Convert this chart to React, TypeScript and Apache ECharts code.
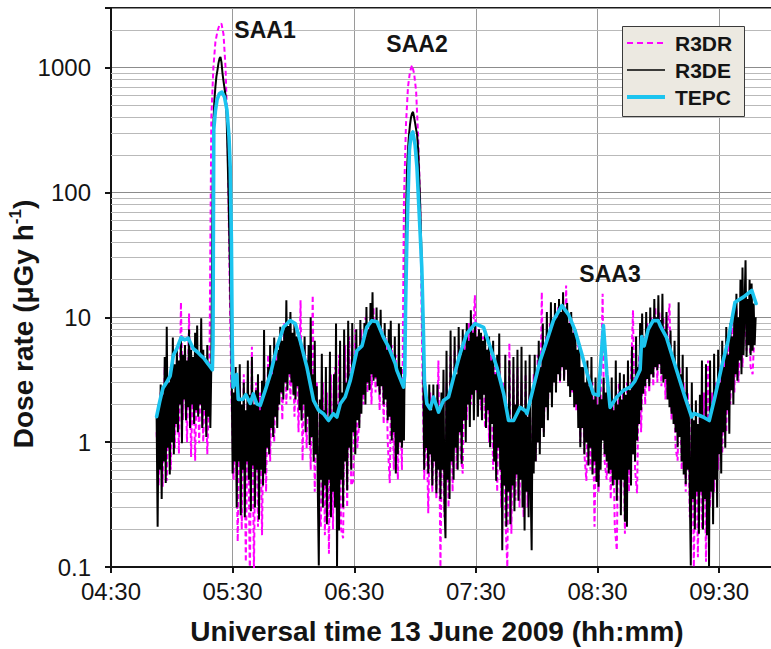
import { useEffect, useRef } from "react";
import * as echarts from "echarts";

const FONT = "'Liberation Sans', Arial, Helvetica, sans-serif";

// Time axis: minutes after 04:30 UT
const TIME_ORIGIN = 4 * 60 + 30;
const X_MAX = 330; // 10:00 UT
const xTickLabels = ["04:30", "05:30", "06:30", "07:30", "08:30", "09:30"];

// Dose-rate axis (log)
const yTickValues = [0.1, 1, 10, 100, 1000];
const yTickLabels = ["0.1", "1", "10", "100", "1000"];
const minorGridValues = [
  0.2, 0.3, 0.4, 0.5, 0.6, 0.7, 0.8, 0.9,
  2, 3, 4, 5, 6, 7, 8, 9,
  20, 30, 40, 50, 60, 70, 80, 90,
  200, 300, 400, 500, 600, 700, 800, 900,
  2000,
];

// R3DE: 30-second samples from 04:52:30 UT (µGy/h)
const R3DE_START = 22.5;
const R3DE_STEP = 0.5;
const r3deDose = [
  1.6, 0.21, 2.0, 0.6, 2.9, 0.35, 2.4, 0.7, 4.8, 0.47, 8.4, 0.9, 3.0, 0.55, 3.5, 1.0, 6.9, 0.8, 4.2, 1.4,
  5.5, 1.2, 4.5, 2.0, 7.0, 0.98, 5.0, 2.2, 6.0, 1.5, 4.5, 1.9, 8.0, 1.3, 5.5, 2.0, 4.8, 1.4, 7.5, 1.8,
  8.6, 1.6, 5.0, 2.0, 9.8, 1.3, 5.5, 1.8, 4.5, 1.1, 6.0, 1.6, 4.0, 1.3, 4.2, 60, 350, 550, 700, 850,
  950, 1080, 1180, 1217, 1100, 900, 780, 680, 600, 420, 200, 90, 35, 12, 4.0, 0.56, 2.5, 0.7, 4.0, 0.3,
  2.2, 0.7, 4.2, 0.26, 2.0, 0.6, 3.0, 0.25, 1.8, 0.7, 4.5, 0.5, 2.4, 0.28, 4.8, 0.65, 2.0, 0.3, 2.6, 0.6,
  3.5, 0.24, 1.8, 0.6, 3.1, 0.45, 7.9, 0.56, 2.8, 0.9, 4.0, 0.8, 6.0, 1.3, 3.5, 1.1, 6.9, 1.6, 4.5, 1.3,
  5.5, 2.0, 8.4, 2.5, 6.5, 2.2, 8.0, 3.0, 13.7, 2.6, 8.5, 3.5, 11.0, 3.0, 7.5, 2.4, 9.0, 2.2, 7.0, 2.8,
  7.5, 1.8, 6.0, 1.49, 5.5, 2.0, 7.0, 1.2, 4.5, 1.6, 6.0, 0.95, 10.0, 1.1, 3.5, 0.7, 6.5, 0.8, 2.8, 0.44,
  0.103, 2.2, 0.5, 5.1, 0.3, 1.8, 0.45, 4.0, 0.22, 1.5, 0.5, 5.3, 0.25, 1.7, 0.4, 3.5, 0.3, 8.9, 0.102, 2.0,
  0.196, 6.5, 0.5, 2.5, 0.3, 8.0, 0.7, 3.0, 0.41, 9.4, 0.9, 3.5, 0.6, 9.0, 1.2, 4.5, 0.8, 8.0, 1.5, 5.5,
  1.3, 9.5, 1.69, 6.0, 2.4, 9.0, 2.0, 12.1, 3.0, 8.0, 2.6, 13.0, 3.5, 15.9, 3.1, 9.0, 3.3, 12.0, 2.8, 8.5,
  2.4, 11.5, 2.8, 7.0, 2.0, 9.0, 2.2, 5.5, 1.5, 8.0, 1.6, 9.4, 1.03, 5.0, 1.2, 7.0, 0.56, 4.0, 0.8, 8.9,
  1.0, 4.0, 0.9, 3.0, 1.03, 8, 60, 150, 220, 290, 350, 400, 430, 441, 400, 360, 320, 290, 220, 140,
  80, 40, 20, 4.0, 0.6, 2.8, 0.9, 2.0, 0.56, 2.9, 0.8, 1.8, 0.45, 2.9, 0.7, 2.0, 0.39, 2.9, 0.6, 1.9,
  0.35, 2.5, 0.6, 3.8, 0.3, 0.17, 5.4, 0.5, 2.5, 0.35, 7.85, 0.7, 3.0, 0.5, 7.0, 0.9, 3.5, 0.6, 8.35, 1.2,
  5.0, 0.67, 8.0, 1.5, 5.5, 1.0, 9.0, 2.0, 6.5, 1.32, 11.4, 2.4, 7.5, 1.5, 9.0, 2.6, 7.0, 1.6, 8.0, 2.2,
  7.5, 1.5, 6.5, 2.4, 8.0, 1.3, 5.5, 1.8, 7.0, 0.91, 4.5, 1.4, 6.5, 0.7, 3.5, 0.49, 5.0, 0.9, 7.4, 0.6,
  3.0, 0.136, 2.5, 0.45, 5.0, 0.21, 1.8, 0.4, 4.5, 0.22, 1.5, 0.45, 4.8, 0.28, 2.0, 0.55, 5.5, 0.34, 1.9, 0.5,
  5.8, 0.3, 1.8, 0.196, 4.5, 0.4, 1.6, 0.25, 5.0, 0.45, 0.136, 2.6, 0.56, 5.0, 0.7, 3.5, 1.0, 6.5, 0.8, 4.0,
  1.3, 8.9, 1.1, 5.5, 1.9, 11.0, 1.5, 7.0, 2.5, 13.2, 1.9, 9.0, 3.0, 13.0, 2.5, 10.0, 3.5, 14.0, 3.1, 11.0,
  4.0, 15.9, 3.1, 11.0, 3.8, 13.0, 2.8, 9.0, 2.3, 11.0, 2.6, 7.5, 1.9, 8.0, 2.0, 5.5, 1.3, 6.0, 0.91, 4.0,
  1.3, 4.0, 0.8, 3.0, 1.0, 4.5, 0.65, 2.8, 0.9, 4.8, 0.55, 2.2, 0.7, 3.3, 0.48, 2.0, 0.44, 3.0, 0.6, 2.2,
  1.03, 3.3, 0.8, 2.5, 0.7, 3.1, 0.56, 2.0, 0.6, 3.3, 0.45, 1.8, 0.5, 4.5, 0.34, 2.0, 0.5, 3.6, 0.26, 2.2,
  0.5, 3.5, 0.23, 2.4, 0.21, 4.5, 0.6, 2.6, 0.45, 5.8, 0.8, 3.0, 0.7, 7.0, 1.03, 4.0, 1.4, 9.0, 1.8, 10.7,
  2.44, 6.0, 2.8, 11.0, 3.2, 7.5, 2.8, 12.0, 3.5, 9.0, 3.3, 14.0, 4.0, 10.0, 3.76, 15.0, 4.2, 9.5, 3.5, 15.4,
  3.0, 8.0, 3.2, 11.0, 2.2, 6.5, 1.9, 7.85, 1.69, 5.0, 1.4, 6.5, 1.2, 4.0, 0.91, 13.2, 1.1, 3.5, 0.7, 5.0,
  0.55, 2.5, 0.46, 4.0, 0.6, 2.0, 0.4, 0.103, 3.0, 0.35, 1.5, 0.2, 2.16, 0.4, 1.4, 0.185, 2.4, 0.4, 4.5, 0.2,
  1.6, 0.35, 4.2, 0.18, 1.5, 0.102, 4.5, 0.4, 2.0, 0.22, 5.1, 0.5, 2.5, 0.3, 5.5, 0.8, 3.0, 0.56, 6.5, 1.2,
  4.0, 0.9, 8.35, 1.8, 5.0, 1.17, 9.0, 2.6, 7.0, 2.0, 13.0, 3.5, 15.4, 3.1, 10.0, 4.5, 20.0, 3.5, 25.0, 5.0,
  12.0, 28.6, 4.8, 14.0, 6.0, 20.0, 5.0, 18.6, 5.4, 12.9, 6.0, 10.0,
];

// R3DR: 1-minute samples from 04:52:30 UT (µGy/h)
const R3DR_START = 22.5;
const R3DR_STEP = 1;
const r3drDose = [
  1.2, 0.45, 2.5, 0.44, 4.0, 0.49, 3.0, 0.6, 5.0, 0.9,
  4.5, 0.81, 13.2, 1.5, 5.5, 1.0, 10.7, 0.76, 4.0, 0.71,
  5.0, 0.98, 6.0, 1.0, 4.0, 0.8, 3.0, 400, 1000, 1600,
  1950, 2200, 2250, 1850, 1000, 300, 20, 2.0, 0.5, 2.5,
  0.16, 2.8, 0.2, 3.5, 0.11, 2.5, 0.08, 5.8, 0.09, 3.0,
  0.21, 2.5, 0.18, 4.0, 0.4, 5.0, 0.7, 4.5, 1.0, 6.0,
  1.8, 7.0, 1.5, 9.0, 2.0, 8.0, 2.2, 7.0, 1.6, 6.0,
  1.2, 13.7, 0.71, 6.0, 0.9, 5.0, 0.6, 15.0, 0.4, 3.0,
  0.3, 0.21, 3.0, 0.18, 2.5, 0.128, 3.5, 0.2, 4.0, 0.25,
  5.0, 0.2, 0.17, 6.0, 0.3, 7.0, 0.45, 0.49, 8.0, 0.9,
  1.5, 8.0, 2.0, 10.0, 2.5, 9.0, 2.0, 12.0, 2.5, 9.0,
  1.8, 8.0, 1.4, 7.0, 1.0, 0.47, 6.0, 0.6, 5.0, 0.5,
  3.0, 0.6, 86, 350, 700, 930, 1043, 900, 650, 280,
  86, 5.0, 0.5, 2.0, 0.27, 2.5, 0.4, 2.0, 0.35, 4.5,
  0.1, 2.5, 0.25, 3.0, 0.3, 5.0, 0.4, 5.5, 0.6, 6.0,
  0.8, 0.56, 7.0, 1.5, 9.0, 2.0, 7.0, 15.0, 2.5, 8.0,
  1.8, 7.0, 1.3, 5.5, 1.0, 5.0, 0.6, 4.0, 0.4, 5.0,
  0.3, 3.0, 0.25, 0.1, 6.2, 0.185, 3.5, 0.34, 4.0, 0.3,
  3.0, 0.25, 3.5, 0.3, 2.5, 0.4, 3.5, 0.7, 5.0, 1.0,
  15.9, 1.2, 7.0, 1.8, 9.0, 2.5, 10.0, 2.8, 12.0, 3.0,
  11.0, 3.2, 18.0, 3.0, 10.0, 2.5, 8.0, 1.8, 6.0, 1.0,
  4.0, 0.8, 0.49, 3.5, 0.6, 3.0, 0.21, 2.5, 0.4, 2.0,
  15.4, 0.7, 0.5, 2.5, 0.35, 2.0, 0.21, 0.136, 3.0, 0.3,
  2.5, 0.185, 3.0, 0.4, 3.5, 11.4, 0.6, 0.39, 5.0, 1.2,
  7.0, 2.0, 9.0, 2.5, 10.0, 2.8, 12.0, 3.0, 11.0, 2.8,
  10.0, 2.2, 8.0, 12.9, 1.5, 5.0, 0.9, 0.71, 4.0, 0.6,
  3.0, 0.4, 2.5, 0.25, 2.0, 0.1, 1.5, 0.12, 2.0, 0.2,
  2.5, 0.11, 4.5, 0.3, 2.5, 0.4, 3.0, 0.6, 4.0, 0.81,
  5.0, 1.2, 7.0, 2.0, 9.0, 2.5, 12.0, 3.0, 10.0, 4.0,
  12.0, 5.4, 14.0, 4.0, 3.5, 8.0,
];

// TEPC: minutes after 04:30 UT and dose rate (µGy/h)
const tepcTime = [
  22.5, 24.0, 25.6, 27.4, 29.2, 30.8, 32.5, 34.6, 36.3, 38.1,
  40.6, 42.5, 44.0, 45.8, 47.3, 49.0, 50.0, 50.3, 50.7, 51.5,
  52.3, 53.5, 54.7, 56.0, 57.2, 58.2, 58.8, 59.4, 59.8, 60.2,
  61.2, 62.0, 62.8, 65.0, 66.5, 68.7, 70.2, 71.9, 73.6, 76.1,
  78.6, 81.9, 85.1, 88.4, 90.9, 93.3, 96.6, 99.9, 102.4, 104.8,
  107.3, 109.6, 111.4, 113.1, 115.5, 118.0, 121.3, 123.8, 126.2, 128.7,
  131.2, 134.4, 136.9, 140.2, 141.0, 144.3, 144.9, 145.3, 146.0, 147.2,
  148.0, 148.9, 150.0, 150.9, 152.5, 153.3, 154.1, 154.6, 155.8, 157.4,
  159.1, 161.6, 164.0, 166.5, 169.0, 172.2, 175.5, 179.6, 183.8, 187.0,
  190.3, 193.7, 196.1, 198.6, 201.8, 204.5, 205.2, 208.4, 211.7, 215.0,
  218.2, 222.4, 225.7, 228.9, 232.2, 235.4, 237.9, 240.4, 242.9, 244.6,
  246.2, 249.5, 252.8, 256.1, 258.5, 261.0, 261.8, 263.0, 265.0, 267.4,
  269.9, 271.0, 274.0, 279.0, 283.1, 286.4, 287.6, 289.7, 292.1, 295.1,
  297.9, 301.2, 304.4, 307.8, 311.9, 316.1, 318.2,
];
const tepcDose = [
  1.6, 2.1, 2.7, 3.0, 3.4, 5.0, 5.6, 6.9, 6.6, 6.8,
  5.6, 5.3, 5.0, 4.7, 4.35, 4.0, 3.8, 6.0, 320, 450,
  550, 620, 637, 580, 456, 280, 160, 40, 6.0, 2.76,
  2.94, 3.5, 2.2, 2.2, 2.4, 2.04, 2.44, 2.03, 1.97, 2.6,
  3.5, 5.8, 8.35, 9.4, 8.9, 6.5, 4.0, 2.16, 1.8, 1.69,
  1.49, 1.69, 1.59, 2.03, 2.3, 3.1, 5.4, 5.9, 8.35, 9.4,
  9.2, 6.9, 5.8, 4.25, 3.76, 2.76, 3.5, 12, 47, 218,
  290, 305, 240, 160, 47, 25, 7.85, 3.1, 2.03, 1.85,
  2.3, 1.74, 2.16, 2.3, 3.3, 5.1, 7.4, 8.9, 8.3, 5.8,
  4.0, 2.44, 1.49, 1.49, 1.9, 1.78, 1.69, 2.76, 4.5, 6.5,
  9.4, 12.4, 10.5, 7.85, 5.1, 3.3, 2.44, 2.37, 8.6, 3.5,
  1.9, 2.3, 2.6, 2.76, 3.1, 3.8, 7.0, 5.9, 8.0, 9.4,
  9.4, 8.5, 6.9, 3.76, 2.3, 1.59, 1.7, 1.65, 1.59, 1.49,
  2.3, 4.0, 6.5, 13.2, 14.5, 16.4, 12.9,
];

const seriesNames = ["R3DR", "R3DE", "TEPC"];
const saaLabels = ["SAA1", "SAA2", "SAA3"];

const MAGENTA = "#ff00ff";
const BLACK = "#000000";
const CYAN = "#1cc4ef";
const INK = "#141414";

function sampled(start: number, step: number, values: number[]) {
  return values.map((v, i) => [start + i * step, v]);
}

function isNear(a: number, b: number) {
  return Math.abs(a - b) < 1e-6 * Math.max(1, Math.abs(b));
}

export default function App() {
  const ref = useRef<HTMLDivElement>(null);

  useEffect(() => {
    if (!ref.current) return;
    const chart = echarts.init(ref.current, undefined, { renderer: "svg" });

    const legendX = 622;
    const legendY = 26;
    const legendRows = [
      { name: seriesNames[0], y: 43, stroke: MAGENTA, width: 2, dash: [6, 4] },
      { name: seriesNames[1], y: 70, stroke: BLACK, width: 1.6, dash: null },
      { name: seriesNames[2], y: 97, stroke: CYAN, width: 4, dash: null },
    ];

    const textStyle = (text: string, font: string, extra: any = {}) => ({
      text,
      font,
      fill: INK,
      align: "center",
      textAlign: "center",
      verticalAlign: "middle",
      textVerticalAlign: "middle",
      ...extra,
    });

    const option: any = {
      animation: false,
      backgroundColor: "#ffffff",
      grid: {
        left: 111,
        top: 8,
        width: 669,
        height: 559,
        show: true,
        borderColor: "#1a1a1a",
        borderWidth: 2,
        backgroundColor: "#ffffff",
        containLabel: false,
        outerBoundsMode: "none",
      },
      xAxis: {
        type: "value",
        min: 0,
        max: X_MAX,
        interval: 60,
        axisLine: { show: true, onZero: false, lineStyle: { color: INK, width: 2 } },
        axisTick: { show: true, length: 6, lineStyle: { color: INK, width: 2 } },
        axisLabel: {
          fontFamily: FONT,
          fontSize: 24,
          color: INK,
          margin: 12,
          showMaxLabel: false,
          formatter: (v: number) => {
            const idx = v / 60;
            return Number.isInteger(idx) && idx < xTickLabels.length ? xTickLabels[idx] : "";
          },
        },
        splitLine: { show: true, lineStyle: { color: "#9a9a9a", width: 1 } },
      },
      yAxis: {
        type: "log",
        logBase: 10,
        min: 0.1,
        max: 3000,
        axisLine: { show: true, lineStyle: { color: INK, width: 2 } },
        axisTick: { show: true, length: 6, lineStyle: { color: INK, width: 2 } },
        axisLabel: {
          fontFamily: FONT,
          fontSize: 24,
          color: INK,
          margin: 20,
          formatter: (v: number) => {
            const i = yTickValues.findIndex((t) => isNear(v, t));
            return i >= 0 ? yTickLabels[i] : "";
          },
        },
        splitLine: { show: true, lineStyle: { color: "#8c8c8c", width: 1 } },
      },
      series: [
        {
          name: seriesNames[0],
          type: "line",
          data: sampled(R3DR_START, R3DR_STEP, r3drDose),
          symbol: "none",
          showSymbol: false,
          lineStyle: { color: MAGENTA, width: 2, type: [5, 3] },
          emphasis: { disabled: true },
          z: 2,
          markLine: {
            silent: true,
            z: 1,
            animation: false,
            symbol: ["none", "none"],
            label: { show: false },
            lineStyle: { color: "#b9b9b9", width: 1, type: "solid" },
            emphasis: { disabled: true },
            data: minorGridValues.map((v) => ({ yAxis: v })),
          },
        },
        {
          name: seriesNames[1],
          type: "line",
          data: sampled(R3DE_START, R3DE_STEP, r3deDose),
          symbol: "none",
          showSymbol: false,
          lineStyle: { color: BLACK, width: 2 },
          emphasis: { disabled: true },
          z: 3,
        },
        {
          name: seriesNames[2],
          type: "line",
          data: tepcTime.map((t, i) => [t, tepcDose[i]]),
          symbol: "none",
          showSymbol: false,
          lineStyle: { color: CYAN, width: 3.6, join: "round", cap: "round" },
          emphasis: { disabled: true },
          z: 4,
        },
      ],
      graphic: [
        // axis titles
        {
          type: "text",
          x: 437,
          y: 631,
          z: 100,
          style: textStyle("Universal time 13 June 2009 (hh:mm)", `bold 28px ${FONT}`),
        },
        {
          type: "text",
          x: 23,
          y: 324,
          rotation: Math.PI / 2,
          z: 100,
          style: textStyle("{t|Dose rate (μGy h}{s|-1}{t|)}", `bold 28px ${FONT}`, {
            rich: {
              t: { font: `bold 28px ${FONT}`, fill: INK, lineHeight: 32 },
              s: { font: `bold 17px ${FONT}`, fill: INK, verticalAlign: "top", lineHeight: 32 },
            },
          }),
        },
        // SAA annotations
        { type: "text", x: 265, y: 30, z: 100, style: textStyle(saaLabels[0], `bold 23px ${FONT}`) },
        { type: "text", x: 417, y: 44, z: 100, style: textStyle(saaLabels[1], `bold 23px ${FONT}`) },
        { type: "text", x: 610, y: 274, z: 100, style: textStyle(saaLabels[2], `bold 23px ${FONT}`) },
        // legend box
        {
          type: "rect",
          z: 100,
          shape: { x: legendX + 0.5, y: legendY + 0.5, width: 122, height: 90 },
          style: { fill: "#ece9e1", stroke: "#3a3a3a", lineWidth: 1 },
        },
        ...legendRows.flatMap((r) => [
          {
            type: "line",
            z: 101,
            shape: { x1: legendX + 5, y1: r.y, x2: legendX + 43, y2: r.y },
            style: { stroke: r.stroke, lineWidth: r.width, lineDash: r.dash || undefined },
          },
          {
            type: "text",
            x: legendX + 53,
            y: r.y,
            z: 101,
            style: textStyle(r.name, `bold 21px ${FONT}`, { align: "left", textAlign: "left" }),
          },
        ]),
      ],
    };

    chart.setOption(option);
    return () => chart.dispose();
  }, []);

  return (
    <div
      ref={ref}
      style={{ position: "absolute", left: 0, top: 0, width: 771, height: 649, background: "#fff" }}
    />
  );
}
